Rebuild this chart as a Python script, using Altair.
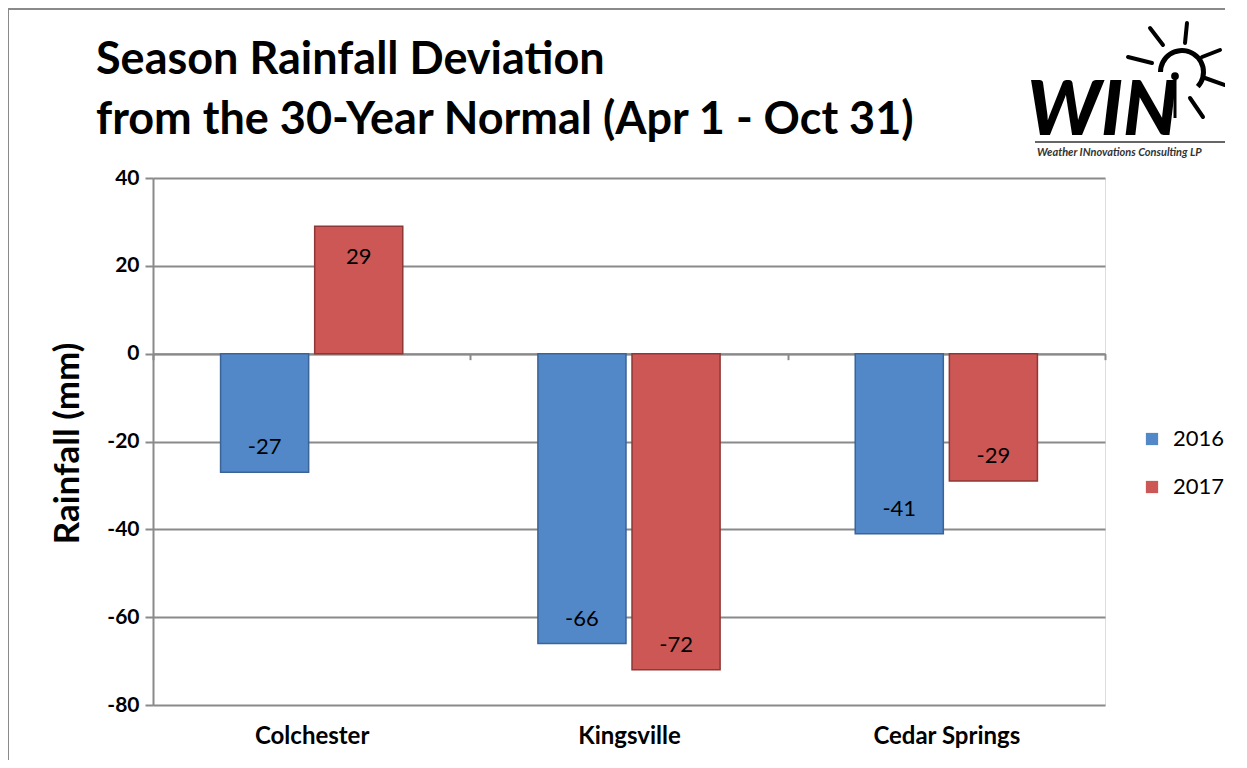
import altair as alt
import pandas as pd

sites = ["Colchester", "Kingsville", "Cedar Springs"]
years = ["2016", "2017"]
dev_2016 = [-27, -66, -41]
dev_2017 = [29, -72, -29]
y_ticks = [-80, -60, -40, -20, 0, 20, 40]
title_lines = ["Season Rainfall Deviation", "from the 30-Year Normal (Apr 1 - Oct 31)"]
fill_colors = ["#5288C8", "#CD5755"]
edge_colors = ["#3A6398", "#8E3735"]

rows = []
for s, a, b in zip(sites, dev_2016, dev_2017):
    rows.append({"site": s, "year": years[0], "value": a, "label": str(a)})
    rows.append({"site": s, "year": years[1], "value": b, "label": str(b)})
df = pd.DataFrame(rows)

FONT = "Lato"
W, H = 952, 527
GRID = "#8A8A8A"
zero_px = H * 40 / 120.0

x_enc = alt.X("site:N", sort=sites,
              scale=alt.Scale(paddingInner=0, paddingOuter=0),
              axis=alt.Axis(title=None, orient="bottom", offset=-(H - zero_px),
                            domain=True, domainColor=GRID, domainWidth=2,
                            ticks=True, tickBand="extent", tickColor=GRID, tickWidth=2, tickSize=6,
                            labelPadding=365, labelAngle=0, labelFont=FONT,
                            labelFontSize=24, labelFontWeight="bold", labelColor="black",
                            grid=False))
xo_enc = alt.XOffset("year:N", sort=years,
                     scale=alt.Scale(paddingInner=0.064, paddingOuter=0.718))
y_enc = alt.Y("value:Q",
              scale=alt.Scale(domain=[-80, 40], nice=False, zero=False),
              axis=alt.Axis(values=y_ticks, title="Rainfall (mm)", grid=True,
                            labelExpr="'' + datum.value",
                            gridColor=GRID, gridWidth=2,
                            domain=True, domainColor=GRID, domainWidth=2,
                            ticks=True, tickColor=GRID, tickWidth=2, tickSize=8,
                            labelFont=FONT, labelFontSize=21, labelFontWeight="bold",
                            labelColor="black", labelPadding=6,
                            titleFont=FONT, titleFontSize=35, titleFontWeight="bold",
                            titleColor="black", titleX=-86, titleY=265,
                            titleAngle=270, titleAlign="center", titleBaseline="middle"))

base = alt.Chart(df)

bars = base.mark_bar(strokeWidth=1.5).encode(
    x=x_enc, xOffset=xo_enc, y=y_enc, y2=alt.datum(0),
    color=alt.Color("year:N", sort=years,
                    scale=alt.Scale(domain=years, range=fill_colors),
                    legend=alt.Legend(title=None, orient="none", legendX=988, legendY=250,
                                      symbolType="square", symbolSize=150,
                                      symbolStrokeWidth=0, labelFont=FONT,
                                      labelFontSize=22, labelColor="black",
                                      rowPadding=26, labelOffset=10)),
    stroke=alt.Stroke("year:N", sort=years,
                      scale=alt.Scale(domain=years, range=edge_colors), legend=None),
)

neg_labels = base.transform_filter("datum.value < 0").mark_text(
    font=FONT, fontSize=22, color="black", baseline="middle", dy=-25
).encode(x=alt.X("site:N", sort=sites), xOffset=alt.XOffset("year:N", sort=years),
         y="value:Q", text="label:N")
pos_labels = base.transform_filter("datum.value >= 0").mark_text(
    font=FONT, fontSize=22, color="black", baseline="middle", dy=31
).encode(x=alt.X("site:N", sort=sites), xOffset=alt.XOffset("year:N", sort=years),
         y="value:Q", text="label:N")

one = pd.DataFrame({"k": [0]})
deco = alt.Chart(one)

title_text = deco.mark_text(font=FONT, fontSize=45, fontWeight="bold", color="black",
                            align="left", baseline="middle", lineHeight=60).encode(
    x=alt.value(-57), y=alt.value(-118), text=alt.value(title_lines))

# frame
frame_left = deco.mark_rule(color="#8A8A8A", strokeWidth=2).encode(
    x=alt.value(-145), y=alt.value(-169), y2=alt.value(600))
frame_top = deco.mark_rule(color="#8A8A8A", strokeWidth=2).encode(
    x=alt.value(-145), x2=alt.value(1100), y=alt.value(-169))

# logo
logo_text = deco.mark_text(font=FONT, fontSize=76, fontWeight=900, fontStyle="italic",
                           color="black", align="left", baseline="alphabetic").encode(
    x=alt.value(874), y=alt.value(-43), text=alt.value("WIN"))
logo_line = deco.mark_rule(color="#666666", strokeWidth=2).encode(
    x=alt.value(882), x2=alt.value(1072), y=alt.value(-36))
logo_sub = deco.mark_text(font=FONT, fontSize=11, fontWeight="bold", fontStyle="italic",
                          color="#333333", align="left", baseline="middle").encode(
    x=alt.value(884), y=alt.value(-25), text=alt.value("Weather INnovations Consulting LP"))
sun_arc = deco.mark_arc(color="black", radius=24, radius2=19, theta=4.71, theta2=8.6).encode(
    x=alt.value(1029), y=alt.value(-106))
ray_df = pd.DataFrame({
    "x1": [997, 1034, 1067, 975, 1052, 1037],
    "y1": [-150, -155, -128, -121, -100, -80],
    "x2": [1010, 1032, 1049, 999, 1072, 1050],
    "y2": [-133, -135, -121, -115, -93, -61],
})
rays = alt.Chart(ray_df).mark_rule(color="black", strokeWidth=4, strokeCap="round").encode(
    x=alt.X("x1:Q", scale=None), x2="x2:Q", y=alt.Y("y1:Q", scale=None), y2="y2:Q")
antenna = deco.mark_rule(color="black", strokeWidth=3).encode(
    x=alt.value(1022), y=alt.value(-102), y2=alt.value(-60))
antenna_dot = deco.mark_point(color="black", filled=True, size=60, opacity=1).encode(
    x=alt.value(1022), y=alt.value(-102))

chart = alt.layer(
    bars, neg_labels, pos_labels, title_text,
    frame_left, frame_top, logo_text, logo_line, logo_sub, sun_arc, rays, antenna, antenna_dot
).properties(
    width=W, height=H,
    autosize=alt.AutoSizeParams(type="none"),
    padding={"left": 145, "top": 170, "right": 120, "bottom": 55},
).configure_view(stroke=None).configure(background="white")

chart.save("out.html", embed_options={"renderer": "svg", "actions": False})
